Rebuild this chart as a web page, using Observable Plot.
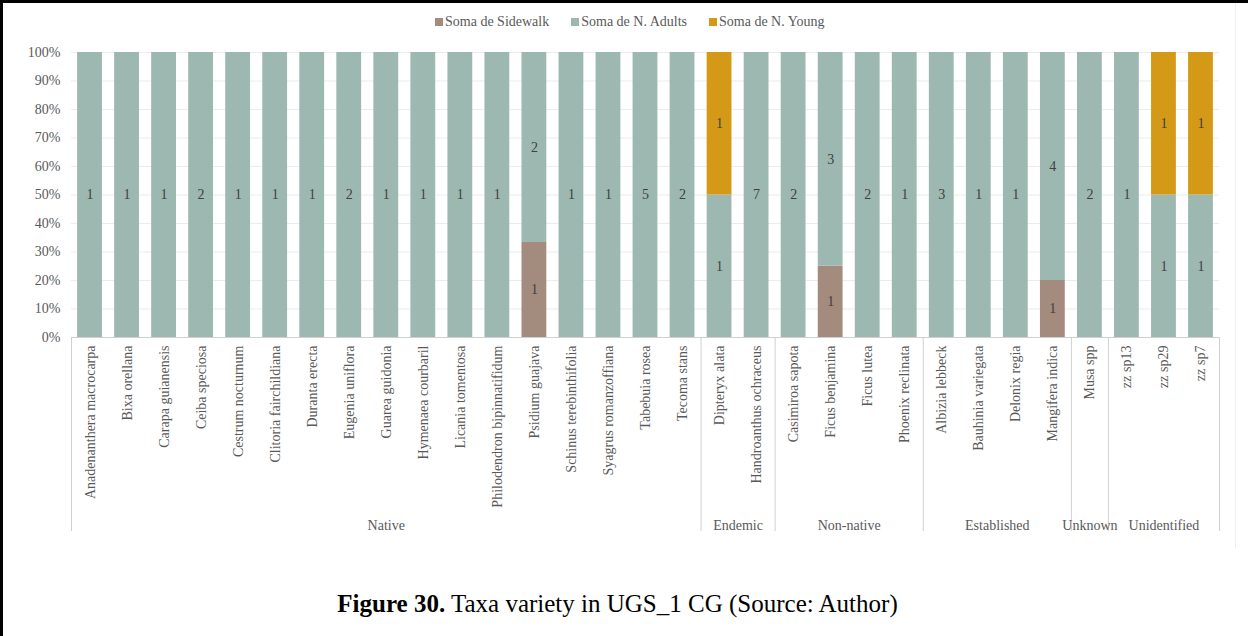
<!DOCTYPE html>
<html>
<head>
<meta charset="utf-8">
<script src="https://cdn.jsdelivr.net/npm/d3@7"></script>
<script src="https://cdn.jsdelivr.net/npm/@observablehq/plot@0.6"></script>
<style>
  html, body { margin: 0; padding: 0; background: #fff; }
  body { width: 1248px; height: 636px; position: relative; overflow: hidden;
         font-family: "Liberation Serif", "Times New Roman", serif; }
  #legend { height: 40px; display: flex; align-items: center; padding-left: 435px; padding-top: 3px; box-sizing: border-box;
            font-size: 14px; color: #595959; }
  .item { display: flex; align-items: center; margin-right: 22px; }
  .sw { width: 8px; height: 8px; margin-right: 2px; }
  #chart svg { display: block; }
  #caption { position: absolute; left: 0; width: 1235px; top: 589px; text-align: center;
             font-size: 25px; line-height: 30px; color: #000; }
  .bt { position: absolute; left: 0; top: 0; width: 1248px; height: 3px; background: #000; }
  .bl { position: absolute; left: 0; top: 0; width: 3px; height: 636px; background: #000; }
  .br { position: absolute; left: 1235px; top: 0; width: 1px; height: 548px; background: #efefef; }
</style>
</head>
<body>
<div id="legend"></div>
<div id="chart"></div>
<div id="caption"><b>Figure 30.</b> Taxa variety in UGS_1 CG (Source: Author)</div>
<div class="br"></div>
<div class="bt"></div>
<div class="bl"></div>
<script>
const categories = [
  "Anadenanthera macrocarpa", "Bixa orellana", "Carapa guianensis", "Ceiba speciosa",
  "Cestrum nocturnum", "Clitoria fairchildiana", "Duranta erecta", "Eugenia uniflora",
  "Guarea guidonia", "Hymenaea courbaril", "Licania tomentosa", "Philodendron bipinnatifidum",
  "Psidium guajava", "Schinus terebinthifolia", "Syagrus romanzoffiana", "Tabebuia rosea",
  "Tecoma stans", "Dipteryx alata", "Handroanthus ochraceus", "Casimiroa sapota",
  "Ficus benjamina", "Ficus lutea", "Phoenix reclinata", "Albizia lebbeck",
  "Bauhinia variegata", "Delonix regia", "Mangifera indica", "Musa spp",
  "zz sp13", "zz sp29", "zz sp7"
];
const groups = ["Native", "Endemic", "Non-native", "Established", "Unknown", "Unidentified"];
const groupSizes = [17, 2, 4, 4, 1, 3];
const series = ["Soma de Sidewalk", "Soma de N. Adults", "Soma de N. Young"];
const sidewalk = [0,0,0,0,0,0,0,0,0,0,0,0,1,0,0,0,0, 0,0, 0,1,0,0, 0,0,0,1, 0, 0,0,0];
const adults   = [1,1,1,2,1,1,1,2,1,1,1,1,2,1,1,5,2, 1,7, 2,3,2,1, 3,1,1,4, 2, 1,1,1];
const young    = [0,0,0,0,0,0,0,0,0,0,0,0,0,0,0,0,0, 1,0, 0,0,0,0, 0,0,0,0, 0, 0,1,1];
const yTicks = [0, 0.1, 0.2, 0.3, 0.4, 0.5, 0.6, 0.7, 0.8, 0.9, 1];
const colors = ["#a38b7d", "#9cb8b1", "#d49a17"];

// legend
const legend = d3.select("#legend");
series.forEach((s, k) => {
  const it = legend.append("div").attr("class", "item");
  it.append("div").attr("class", "sw").style("background", colors[k]);
  it.append("span").text(s);
});

// data table
const valuesBySeries = [sidewalk, adults, young];
const rows = series.flatMap((s, k) => categories.map((c, i) => ({
  category: c, pos: i + 0.5, series: s, value: valuesBySeries[k][i]
})));
const groupBounds = [0];
groupSizes.forEach(n => groupBounds.push(groupBounds[groupBounds.length - 1] + n));
const groupMids = groups.map((g, i) => (groupBounds[i] + groupBounds[i + 1]) / 2);
const catTicks = categories.map((c, i) => i + 0.5);
const serif = "Liberation Serif, Times New Roman, serif";

const plot = Plot.plot({
  width: 1248, height: 505,
  marginLeft: 71, marginRight: 29, marginTop: 12, marginBottom: 208,
  x: {domain: [0, categories.length], axis: null, label: null},
  y: {domain: [0, 1], axis: null, label: null},
  color: {domain: series, range: colors},
  style: {fontFamily: serif, fontSize: "14px", color: "#595959", background: "white", overflow: "visible"},
  marks: [
    Plot.gridY(yTicks, {stroke: "#d9d9d9", strokeOpacity: 0.5}),
    Plot.rect(rows, Plot.stackY({
      x: "pos", x1: d => d.pos - 0.335, x2: d => d.pos + 0.335,
      y: "value", z: "series", fill: "series", offset: "normalize"
    })),
    Plot.text(rows, Plot.stackY({
      x: "pos", y: "value", z: "series", text: "value", offset: "normalize",
      filter: d => d.value > 0, fill: "#404040", fontSize: 14, fontFamily: serif
    })),
    Plot.ruleY([0], {stroke: "#d0d0d0"}),
    Plot.axisY(yTicks, {label: null, tickFormat: d3.format(".0%"), tickSize: 0, tickPadding: 11, fill: "#595959"}),
    Plot.axisX(catTicks, {label: null, tickFormat: d => categories[Math.round(d - 0.5)], tickRotate: -90, tickSize: 0, tickPadding: 8, fill: "#595959"}),
    Plot.axisX(groupBounds, {label: null, tickFormat: () => "", tickSize: 194, stroke: "#d0d0d0"}),
    Plot.axisX(groupMids, {label: null, tickFormat: d => groups[groupMids.indexOf(d)], tickSize: 0, tickPadding: 183, fill: "#595959"})
  ]
});
document.getElementById("chart").appendChild(plot);
</script>
</body>
</html>
